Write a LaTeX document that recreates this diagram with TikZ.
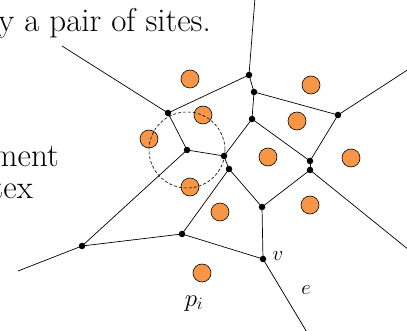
\documentclass[tikz,border=0pt]{standalone}
\usepackage{tikz}
\usetikzlibrary{positioning}
\definecolor{siteorange}{RGB}{247,150,70}

\begin{document}
\begin{tikzpicture}[x=1pt,y=-1pt,
  edge/.style={line width=0.7pt},
  site/.style={circle,draw,line width=0.6pt,fill=siteorange,minimum size=18pt,inner sep=0pt},
  vtx/.style={circle,fill,minimum size=6.5pt,inner sep=0pt},
  lbl/.style={font=\fontsize{22}{26}\selectfont},
  txt/.style={font=\fontsize{33}{38}\selectfont,anchor=base east,inner sep=0pt}]
\useasboundingbox (0,0) rectangle (407,331);
\clip (0,0) rectangle (407,331);

% Voronoi vertices
\foreach \n/\x/\y in {a/249/75,b/254/92,c/168/113,d/252/119,e/338/115,
    f/187/150,g/224/156,h/229/169,i/310/161,j/310/170,k/262/207,
    l/182/234,m/82/246,n/263/259}
    \coordinate (\n) at (\x,\y);
% unbounded edges leave the frame here
\foreach \n/\x/\y in {ta/255/-2,tc/62/46,te/409/69,tj/409/250,tm/18/271,tv/308/334}
    \coordinate (\n) at (\x,\y);

% Edges
\foreach \u/\w in {a/ta,a/b,a/c,c/tc,b/d,b/e,e/te,c/f,f/g,f/m,g/d,g/h,
    d/i,h/k,h/l,i/e,i/j,j/k,j/tj,k/n,l/m,l/n,m/tm,n/tv}
    \draw[edge] (\u) -- (\w);
\foreach \n in {a,b,c,d,e,f,g,h,i,j,k,l,m,n}
    \node[vtx] (v\n) at (\n) {};

% Sites
\foreach \x/\y [count=\s] in {190/79,311/85,203/115,297/121,149/139,268/157,
    351/158,190/187,220/212,310/205,202/273}
    \node[site] (p\s) at (\x,\y) {};

% Empty circle around vertex f
\draw[line width=0.6pt,dash pattern=on 3pt off 2pt] (f) circle (38);

% Labels
\node[lbl] (vlabel) at (278,256) {$v$};
\node[lbl] (elabel) at (306,290) {$e$};
\node[lbl,font=\fontsize{26}{30}\selectfont,anchor=base] (pilabel) at (194,306) {$p_i$};

% Cut-off lines of the surrounding text
\node[txt] (line1) at (211,32) {y a pair of sites.};
\node[txt] (line2) at (59,167) {ment};
\node[txt] (line3) at (33,199) {tex};
\end{tikzpicture}
\end{document}
